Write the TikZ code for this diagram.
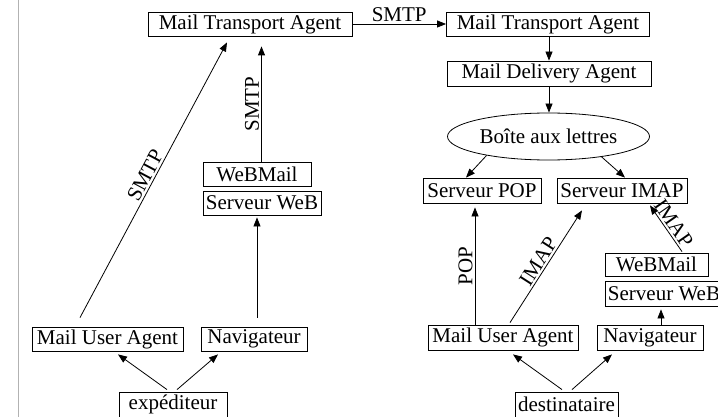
\documentclass[tikz,border=0pt]{standalone}
\usepackage{fontspec}
\setmainfont{Liberation Serif}
\usetikzlibrary{shapes.geometric,arrows.meta,calc}
\begin{document}
\begin{tikzpicture}[x=1pt,y=-1pt,
  every node/.style={font=\fontsize{21}{25}\selectfont},
  box/.style={draw,line width=0.8pt,inner sep=1pt,align=center},
  oval/.style={draw,line width=0.8pt,ellipse,inner sep=0pt,minimum width=202pt,minimum height=47pt},
  arr/.style={line width=0.8pt,-{Triangle[length=9pt,width=7pt]}},
  lbl/.style={inner sep=2pt}]
\useasboundingbox (0,0) rectangle (718,417);
\draw[line width=0.8pt,black!30] (18.5,0) -- (18.5,417);
% sender side
\node[box,minimum width=204pt,minimum height=24pt] (mta1) at (250,24) {Mail Transport Agent};
\node[box,minimum width=108pt,minimum height=24pt] (wm1) at (257,174) {WeBMail};
\node[box,minimum width=118pt,minimum height=24pt] (sw1) at (262,203) {Serveur WeB};
\node[box,minimum width=151pt,minimum height=24pt] (mua1) at (107.5,339) {Mail User Agent};
\node[box,minimum width=106pt,minimum height=24pt] (nav1) at (254,339) {Navigateur};
\node[box,minimum width=108pt,minimum height=25pt] (exp) at (173,404.5) {expéditeur};
% receiver side
\node[box,minimum width=203pt,minimum height=24pt] (mta2) at (548,24) {Mail Transport Agent};
\node[box,minimum width=204pt,minimum height=25pt] (mda) at (549,73.5) {Mail Delivery Agent};
\node[oval] (bal) at (548.5,136.5) {Boîte aux lettres};
\node[box,minimum width=118pt,minimum height=25pt] (pop) at (482,190.5) {Serveur POP};
\node[box,minimum width=130pt,minimum height=25pt] (imap) at (622,190.5) {Serveur IMAP};
\node[box,minimum width=103pt,minimum height=23pt] (wm2) at (656.5,264.5) {WeBMail};
\node[box,minimum width=118pt,minimum height=25pt] (sw2) at (664,293.5) {Serveur WeB};
\node[box,minimum width=150pt,minimum height=25pt] (mua2) at (503,337.5) {Mail User Agent};
\node[box,minimum width=106pt,minimum height=25pt] (nav2) at (650,337.5) {Navigateur};
\node[box,minimum width=103pt,minimum height=25pt] (dest) at (566.5,404.5) {destinataire};
% connectors sender
\draw[arr] (mta1.east) -- node[lbl,above] {SMTP} (mta2.west);
\draw[arr] ($(wm1.north)+(4.5,0)$) -- node[lbl,sloped,above] {SMTP} ($(mta1.south)+(11.5,10)$);
\draw[arr] ($(nav1.north)+(3,-9)$) -- ($(sw1.south)+(-5,2)$);
\draw[arr] ($(mua1.north)+(-27.5,-9)$) -- node[lbl,sloped,above] {SMTP} ($(mta1.south)+(-23,6)$);
\draw[arr] ($(exp.north)+(-6,-2)$) -- ($(mua1.south)+(10.5,3)$);
\draw[arr] ($(exp.north)+(4,-2)$) -- ($(nav1.south)+(-36,3)$);
% connectors receiver
\draw[arr] (mda.north |- mta2.south) -- (mda.north);
\draw[arr] (mda.south) -- (mda.south |- bal.north);
\draw[arr] (bal.197.5) -- ($(pop.north)+(-16,0)$);
\draw[arr] (bal.339) -- ($(imap.north)+(3,0)$);
\draw[arr] ($(dest.north)+(-4.5,-2)$) -- ($(mua2.south)+(10,4)$);
\draw[arr] ($(dest.north)+(5.5,-2)$) -- ($(nav2.south)+(-38,4)$);
\draw[arr] ($(nav2.north)+(11,0)$) -- ($(sw2.south)+(-3,3)$);
\draw[arr] ($(wm2.north)+(25.5,-1)$) -- node[lbl,sloped,above] {IMAP} ($(imap.south)+(28,2)$);
\draw[arr] ($(mua2.north)+(-28,0)$) -- node[lbl,sloped,above] {POP} ($(pop.south)+(-7,4)$);
\draw[arr] ($(mua2.north)+(7,-2)$) -- node[lbl,sloped,above] {IMAP} ($(imap.south)+(-40,7)$);
\end{tikzpicture}
\end{document}
